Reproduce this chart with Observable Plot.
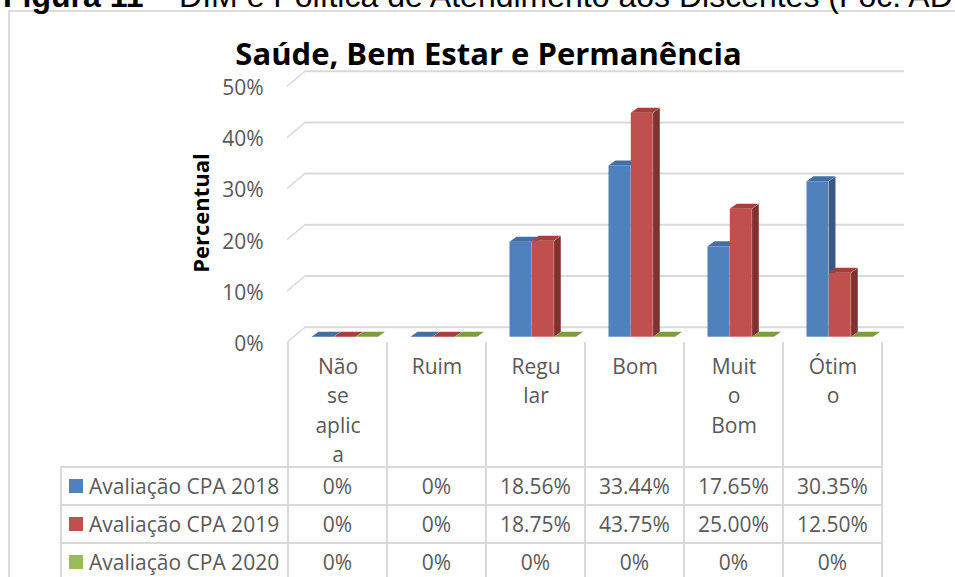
<!DOCTYPE html>
<html>
<head>
<meta charset="utf-8">
<script src="https://cdn.jsdelivr.net/npm/d3@7"></script>
<script src="https://cdn.jsdelivr.net/npm/@observablehq/plot@0.6"></script>
<style>
  html, body { margin: 0; padding: 0; background: #fff; overflow: hidden; }
  #wrap { position: relative; width: 955px; height: 577px; overflow: hidden; font-family: "Open Sans", sans-serif; }
  #wrap > * { position: absolute; left: 0; top: 0; }
  .frame { left: 8px !important; top: 10px !important; width: 1200px; height: 800px; border: 2px solid #DCDCDC; box-sizing: border-box; }
  .hline, .vline { position: absolute; background: #D9D9D9; }
  .cell { position: absolute; display: flex; align-items: center; justify-content: center; font-size: 21px; color: #595959; white-space: nowrap; }
  .legend { justify-content: flex-start; }
  .swatch { position: absolute; width: 14px; height: 14px; }
</style>
</head>
<body>
<div id="wrap"></div>
<script>
// ---------- data ----------
const categories = ["Não se aplica", "Ruim", "Regular", "Bom", "Muito Bom", "Ótimo"];
const tickLabels = ["Não\nse\naplic\na", "Ruim", "Regu\nlar", "Bom", "Muit\no\nBom", "Ótim\no"];
const seriesNames = ["Avaliação CPA 2018", "Avaliação CPA 2019", "Avaliação CPA 2020"];
const values2018 = [0, 0, 18.56, 33.44, 17.65, 30.35];
const values2019 = [0, 0, 18.75, 43.75, 25.00, 12.50];
const values2020 = [0, 0, 0, 0, 0, 0];
const yTicks = [0, 10, 20, 30, 40, 50];
const chartTitle = "Saúde, Bem Estar e Permanência";
const yTitle = "Percentual";

// ---------- styles ----------
const frontColors = ["#4F81BD", "#C0504D", "#9BBB59"];
const sideColors  = ["#36598A", "#80302E", "#6E8A3A"];
const topColors   = ["#416FA6", "#A6403D", "#7D9B45"];
const gridColor = "#D9D9D9", wallColor = "#DADADA";

// ---------- layout ----------
const W = 955, H = 467;
const mL = 287, mR = 72, mT = 80.7, mB = 130.3;
const bw = (W - mL - mR) / categories.length;
const barW = 22.3, groupOffset = 23.5, depthX = 7, depthY = 5;

const seriesValues = [values2018, values2019, values2020];
const fmt = v => v === 0 ? "0%" : v.toFixed(2) + "%";

const barMarks = seriesValues.flatMap((vals, i) => {
  const data = categories.map((c, j) => ({cat: c, v: vals[j]}));
  const L = groupOffset + i * barW;
  return [
    Plot.barY(data, {x: "cat", y: "v", fill: frontColors[i], insetLeft: L, insetRight: bw - L - barW}),
    Plot.barY(data, {x: "cat", y: "v", fill: sideColors[i], insetLeft: L + barW, insetRight: bw - L - barW - depthX}),
    Plot.barY(data, {x: "cat", y1: "v", y2: "v", insetTop: -depthY, fill: topColors[i], insetLeft: L, insetRight: bw - L - barW})
  ];
});

const chart = Plot.plot({
  width: W, height: H,
  marginLeft: mL, marginRight: mR, marginTop: mT, marginBottom: mB,
  x: {type: "band", domain: categories, padding: 0, axis: null},
  y: {domain: [0, 50]},
  style: {background: "transparent", fontFamily: "Open Sans, sans-serif", overflow: "visible"},
  marks: [
    Plot.ruleY(yTicks, {y: d => d, stroke: gridColor, strokeWidth: 2, dx: 18, dy: -10, insetRight: -3}),
    Plot.ruleY(yTicks, {y: d => d, stroke: wallColor, strokeWidth: 2, dy: 5, insetRight: bw * categories.length - 18}),
    Plot.axisY({ticks: yTicks, tickSize: 0, tickPadding: 24, tickFormat: d => d + "%", fontSize: 21, color: "#595959", dy: 7, label: null}),
    ...barMarks,
    Plot.text(categories, {x: d => d, text: (d, i) => tickLabels[i], frameAnchor: "bottom", lineAnchor: "top", dy: 15.7, lineHeight: 1.4, fontSize: 21, fill: "#595959"})
  ]
});

// 3D shear of side / top faces and of the left wall (SVG matrix transforms)
const groups = Array.from(chart.querySelectorAll("g"));
const byAttr = (attr, val) => groups.filter(g => (g.getAttribute(attr) || "").toLowerCase() === val.toLowerCase());
const tSide = -depthY / depthX, sTop = -depthX / depthY, tWall = -15 / 18;
sideColors.forEach(col => byAttr("fill", col).forEach(g => g.querySelectorAll("rect").forEach(r => {
  const x0 = +r.getAttribute("x");
  r.setAttribute("transform", `matrix(1,${tSide},0,1,0,${-tSide * x0})`);
})));
topColors.forEach(col => byAttr("fill", col).forEach(g => g.querySelectorAll("rect").forEach(r => {
  const y0 = +r.getAttribute("y") + +r.getAttribute("height");
  r.setAttribute("transform", `matrix(1,0,${sTop},1,${-sTop * y0},0)`);
})));
byAttr("stroke", wallColor).forEach(g => g.querySelectorAll("line").forEach(l => {
  const x0 = +l.getAttribute("x1");
  l.setAttribute("transform", `matrix(1,${tWall},0,1,0,${-tWall * x0})`);
}));

const wrap = d3.select("#wrap");
wrap.append("div").attr("class", "frame");

// ---------- data table (aligned on Plot's x scale) ----------
const xs = chart.scale("x");
const table = wrap.append("div").style("width", "955px").style("height", "577px");
const tLeft = 61, headTop = 342, rowTop = 466.7, rowH = 38.3, lw = 2;
const tRight = xs.apply(categories[categories.length - 1]) + xs.bandwidth;
for (let r = 0; r <= seriesNames.length; r++) {
  table.append("div").attr("class", "hline")
    .style("left", (tLeft - lw / 2) + "px").style("top", (rowTop + r * rowH - lw / 2) + "px")
    .style("width", (tRight - tLeft + lw) + "px").style("height", lw + "px");
}
table.append("div").attr("class", "vline")
  .style("left", (tLeft - lw / 2) + "px").style("top", rowTop + "px")
  .style("width", lw + "px").style("height", "200px");
const edges = [xs.apply(categories[0]), ...categories.map(c => xs.apply(c) + xs.bandwidth)];
edges.forEach(x => {
  table.append("div").attr("class", "vline")
    .style("left", (x - lw / 2) + "px").style("top", headTop + "px")
    .style("width", lw + "px").style("height", "300px");
});
seriesNames.forEach((name, r) => {
  const top = rowTop + r * rowH;
  table.append("div").attr("class", "swatch")
    .style("left", "69px").style("top", (top + rowH / 2 - 7) + "px")
    .style("background", frontColors[r]);
  table.append("div").attr("class", "cell legend")
    .style("left", "89px").style("top", top + "px").style("height", rowH + "px")
    .text(name);
  categories.forEach((c, j) => {
    table.append("div").attr("class", "cell")
      .style("left", xs.apply(c) + "px").style("top", top + "px")
      .style("width", xs.bandwidth + "px").style("height", rowH + "px")
      .text(fmt(seriesValues[r][j]));
  });
});

// ---------- titles ----------
const deco = wrap.append("svg").attr("width", 955).attr("height", 577);
const head = deco.append("text").attr("x", 3).attr("y", 7)
  .attr("font-family", "Liberation Sans, Arial, sans-serif").attr("font-size", 32).attr("fill", "#000");
head.append("tspan").attr("font-weight", "bold").text("Figura 11");
head.append("tspan").text(" – DIM e Política de Atendimento aos Discentes (Foc. AD");
deco.append("text").attr("x", 488.5).attr("y", 65).attr("text-anchor", "middle")
  .attr("font-family", "Open Sans, sans-serif").attr("font-weight", "bold").attr("font-size", 31)
  .text(chartTitle);
deco.append("text").attr("transform", "translate(209,213) rotate(-90)").attr("text-anchor", "middle")
  .attr("font-family", "Open Sans, sans-serif").attr("font-weight", "bold").attr("font-size", 22)
  .text(yTitle);

wrap.node().appendChild(chart);
d3.select(chart).style("position", "absolute").style("left", "0px").style("top", "0px");
</script>
</body>
</html>
